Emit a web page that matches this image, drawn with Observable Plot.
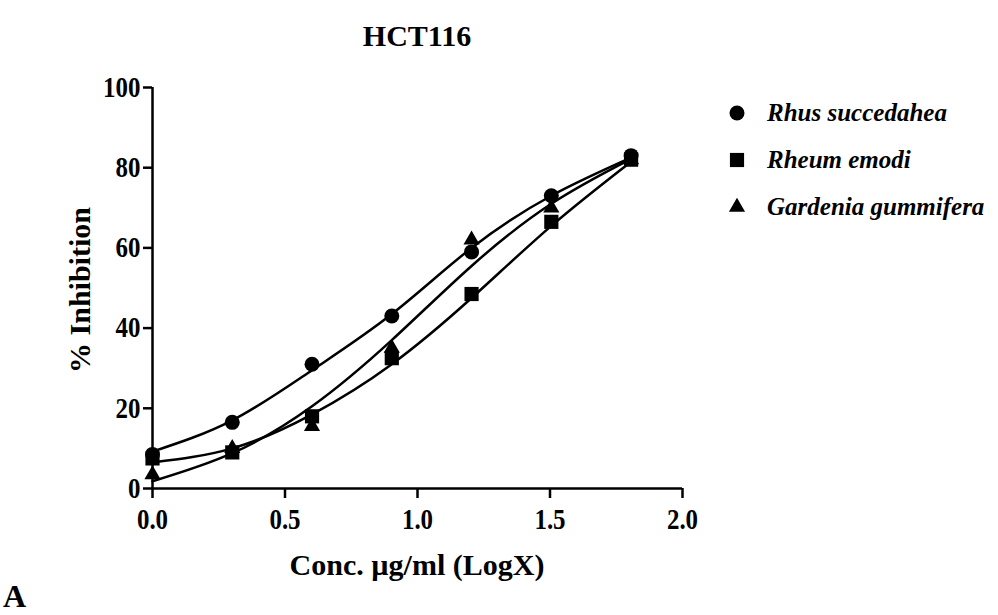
<!DOCTYPE html>
<html>
<head>
<meta charset="utf-8">
<script src="https://cdn.jsdelivr.net/npm/d3@7"></script>
<script src="https://cdn.jsdelivr.net/npm/@observablehq/plot@0.6"></script>
<style>
  body { margin: 0; background: #fff; }
  #wrap { position: relative; width: 998px; height: 615px; overflow: hidden; font-family: "Liberation Serif", "DejaVu Serif", serif; color: #000; background: #fff; }
  .abs { position: absolute; z-index: 2; }
  #title { left: 0; width: 834px; top: 20px; text-align: center; font-size: 30px; line-height: 32px; font-weight: bold; }
  #xlabel { left: 0; width: 834px; top: 549px; text-align: center; font-size: 30px; line-height: 32px; font-weight: bold; }
  #ylabel { left: 80px; top: 290px; width: 0; height: 0; }
  #ylabel span { position: absolute; left: 0; top: 0; transform: translate(-50%, -50%) rotate(-90deg); white-space: nowrap; font-size: 30px; line-height: 32px; font-weight: bold; }
  #panel { left: 3px; top: 580px; font-size: 32px; line-height: 32px; font-weight: bold; }
  .leg { position: absolute; z-index: 2; left: 727px; height: 30px; display: flex; align-items: center; font-size: 25px; font-weight: bold; font-style: italic; white-space: nowrap; }
  .leg svg { width: 20px; height: 20px; margin-right: 20px; }
  svg.plot g[aria-label$="tick"] path { stroke-width: 2.5px; }
</style>
</head>
<body>
<div id="wrap">
  <div id="title" class="abs">HCT116</div>
  <div id="ylabel" class="abs"><span>% Inhibition</span></div>
  <div id="xlabel" class="abs">Conc. µg/ml (LogX)</div>
  <div id="panel" class="abs">A</div>
</div>
<script>
// ---- data ----
const logX = [0, 0.301, 0.602, 0.903, 1.204, 1.505, 1.806];
const seriesNames = ["Rhus succedahea", "Rheum emodi", "Gardenia gummifera"];
const rhusValues = [8.5, 16.5, 31, 43, 59, 73, 83];
const rheumValues = [7.5, 9, 18, 32.5, 48.5, 66.5, 82];
const gardeniaValues = [3.5, 10, 15.5, 35, 62, 70, 82];
// fitted curves, read at the same x positions
const rhusFit = [9.2, 17, 29.5, 43.5, 60, 73, 82.5];
const rheumFit = [6.5, 10, 18.5, 31, 47.5, 65.5, 81.5];
const gardeniaFit = [1.8, 8.8, 20.5, 37, 55.5, 71, 82.2];
const xTicks = [0, 0.5, 1, 1.5, 2];
const yTicks = [0, 20, 40, 60, 80, 100];

const symbols = ["circle", "square", "triangle"];
const radii = [7.5, 8, 6];
const valueSets = [rhusValues, rheumValues, gardeniaValues];
const fitSets = [rhusFit, rheumFit, gardeniaFit];

const pts = (vals) => logX.map((x, i) => ({x, y: vals[i]}));

const marks = [
  Plot.ruleY([0], {x1: 0, x2: 2, stroke: "black", strokeWidth: 2.5}),
  Plot.ruleX([0], {y1: 0, y2: 100, stroke: "black", strokeWidth: 2.5}),
  ...fitSets.map(f => Plot.line(pts(f), {x: "x", y: "y", curve: "natural", stroke: "black", strokeWidth: 2.5})),
  // draw order: circles, triangles, squares
  ...[0, 2, 1].map(k => Plot.dot(pts(valueSets[k]), {x: "x", y: "y", symbol: symbols[k], r: radii[k], fill: "black", stroke: "none"}))
];

const chart = Plot.plot({
  width: 720,
  height: 615,
  marginLeft: 152,
  marginRight: 38,
  marginTop: 87,
  marginBottom: 127,
  style: {fontFamily: "Liberation Serif", fontSize: "29px", fontWeight: "bold", background: "transparent", color: "black", overflow: "visible"},
  x: {domain: [0, 2], ticks: xTicks, tickFormat: d3.format(".1f"), tickSize: 10, tickPadding: 10, label: null},
  y: {domain: [0, 100], ticks: yTicks, tickFormat: d3.format("d"), tickSize: 9, tickPadding: 3, label: null},
  marks
});
chart.style.position = "absolute";
chart.style.left = "0px";
chart.style.top = "0px";
chart.style.zIndex = "1";
chart.classList.add("plot");

// condense tick labels horizontally like the reference
chart.querySelectorAll('g[aria-label$="tick label"] text').forEach(t => {
  const x = parseFloat(t.getAttribute("x")) || 0;
  const tr = t.getAttribute("transform") || "";
  t.removeAttribute("x");
  t.setAttribute("transform", `${tr} translate(${x},0) scale(0.86,1)`);
});
chart.querySelectorAll('g[aria-label$="tick"] path').forEach(p => p.setAttribute("stroke-width", 2.5));

const wrap = document.getElementById("wrap");
wrap.insertBefore(chart, wrap.firstChild);

// legend
const rowY = [113, 160, 207];
seriesNames.forEach((name, k) => {
  const row = document.createElement("div");
  row.className = "leg";
  row.style.top = (rowY[k] - 15) + "px";
  const typ = {circle: d3.symbolCircle, square: d3.symbolSquare, triangle: d3.symbolTriangle}[symbols[k]];
  const d = d3.symbol(typ, radii[k] * radii[k] * Math.PI)();
  row.innerHTML = `<svg viewBox="-10 -10 20 20"><path d="${d}" fill="black"/></svg><span>${name}</span>`;
  wrap.appendChild(row);
});
</script>
</body>
</html>
